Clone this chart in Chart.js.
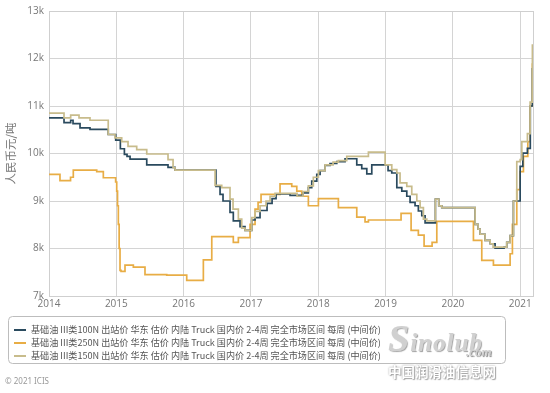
<!DOCTYPE html>
<html><head><meta charset="utf-8">
<script src="https://cdn.jsdelivr.net/npm/chart.js@4"></script>
<style>
html,body{margin:0;padding:0;background:#fff;}
#wrap{position:relative;width:550px;height:393px;overflow:hidden;}
canvas{position:absolute;left:0;top:0;}
#copy{position:absolute;left:5px;top:375px;font:8px "Noto Sans",sans-serif;color:#999;}
#wm1{position:absolute;left:388px;top:316px;font:italic bold 38px "Liberation Serif",serif;color:#d0d0d0;text-shadow:0 0 2px #fff,1px 1px 1px #888;letter-spacing:1px;white-space:nowrap;}
#wm2{position:absolute;left:466px;top:344px;font:italic bold 13px "Liberation Serif",serif;color:#d0d0d0;text-shadow:1px 1px 1px #888;}
#wm3{position:absolute;left:388px;top:361px;font:bold 13.5px "Noto Sans CJK SC",sans-serif;color:#fff;text-shadow:0 0 2px #999,1px 1px 1px #aaa;white-space:nowrap;}
</style></head>
<body><div id="wrap"><canvas id="c" width="550" height="393"></canvas>
<div id="copy">© 2021 ICIS</div>
<div id="wm1">S<span style="font-size:25px">inolub</span></div>
<div id="wm2">.com</div>
<div id="wm3">中国润滑油信息网</div>
</div>
<script>
// Series labels
const seriesNames = [
  "基础油 III类100N 出站价 华东 估价 内陆 Truck 国内价 2-4周 完全市场区间 每周 (中间价)",
  "基础油 III类250N 出站价 华东 估价 内陆 Truck 国内价 2-4周 完全市场区间 每周 (中间价)",
  "基础油 III类150N 出站价 华东 估价 内陆 Truck 国内价 2-4周 完全市场区间 每周 (中间价)"
];
const yTickValues = [7000, 8000, 9000, 10000, 11000, 12000, 13000];
const xTickYears = [2014, 2015, 2016, 2017, 2018, 2019, 2020, 2021];

// 100N (dark blue)
const years100 = [2014.000,2014.223,2014.322,2014.357,2014.461,2014.609,2014.880,2014.991,2015.060,2015.120,2015.159,2015.204,2015.452,2015.768,2015.872,
  2016.480,2016.541,2016.585,2016.689,2016.738,2016.838,2016.912,
  2017.012,2017.061,2017.135,2017.239,2017.314,2017.373,2017.581,2017.774,2017.853,2017.903,2017.978,2018.027,2018.101,2018.175,2018.275,2018.398,
  2018.572,2018.646,2018.721,2018.795,2019.037,2019.092,2019.167,2019.241,2019.315,2019.364,2019.438,2019.487,2019.538,2019.587,
  2019.740,2019.790,2019.835,2020.330,2020.374,2020.404,2020.478,2020.553,2020.627,2020.760,2020.800,2020.850,2020.899,2020.999,2021.039,2021.107,2021.150,2021.181];
const price100 = [10750,10650,10700,10630,10540,10510,10400,10280,10100,9980,9940,9880,9760,9710,9650,
  9310,9140,9000,8760,8580,8460,8380,
  8600,8650,8800,8950,9050,9150,9120,9170,9280,9420,9560,9640,9750,9790,9830,9890,
  9760,9680,9570,9760,9640,9590,9280,9210,9100,8970,8900,8790,8690,8540,
  9040,8900,8860,8510,8410,8300,8170,8100,8010,8030,8130,8270,9000,9730,10010,10110,11000,11800];

// 250N (orange)
const years250 = [2014.000,2014.163,2014.320,2014.361,2014.709,2014.807,2014.990,2015.006,2015.018,2015.030,2015.042,2015.055,2015.070,2015.129,2015.253,2015.426,2015.749,2016.046,2016.293,2016.418,2016.738,2016.813,
  2016.987,2017.061,2017.106,2017.150,2017.432,2017.606,2017.681,2017.755,2017.853,2018.002,2018.299,2018.572,2018.695,2018.745,2019.230,2019.379,2019.487,2019.572,2019.691,2019.761,
  2020.305,2020.429,2020.602,2020.850,2020.884,2020.949,2020.999,2021.048,2021.113,2021.147,2021.181];
const price250 = [9560,9430,9500,9650,9620,9490,9400,9210,8900,8510,8000,7540,7520,7650,7610,7450,7440,7330,7760,8250,8130,8230,
  8510,8830,8970,9140,9360,9310,9210,9100,8900,9050,8860,8660,8560,8600,8740,8380,8280,8050,8130,8570,
  8170,7750,7650,7890,8510,9240,9620,9940,10250,11000,11900];

// 150N (tan)
const years150 = [2014.000,2014.223,2014.322,2014.446,2014.609,2014.880,2014.980,2015.080,2015.174,2015.303,2015.452,2015.768,2015.843,2015.872,
  2016.467,2016.566,2016.689,2016.734,2016.813,2016.863,2016.912,
  2017.012,2017.061,2017.135,2017.224,2017.284,2017.358,2017.685,2017.774,2017.853,2017.927,2018.002,2018.101,2018.220,2018.299,2018.423,2018.745,
  2018.993,2019.092,2019.167,2019.215,2019.315,2019.389,2019.464,2019.513,2019.562,2019.612,2019.740,2019.790,2019.835,
  2020.330,2020.374,2020.404,2020.478,2020.553,2020.597,2020.800,2020.850,2020.899,2020.949,2020.999,2021.024,2021.107,2021.147,2021.181];
const price150 = [10850,10750,10810,10750,10700,10400,10330,10250,10150,10080,9990,9870,9700,9650,
  9330,9280,9040,8830,8620,8430,8380,
  8650,8780,8900,9000,9100,9160,9100,9200,9320,9500,9640,9760,9820,9850,9940,10030,
  9760,9660,9590,9380,9310,9140,9000,8860,8620,8580,9040,8900,8860,
  8510,8410,8300,8170,8100,8030,8130,8270,9000,9830,9870,10250,10420,11080,12300];

const colors = ['#2a4a5e', '#e8ad45', '#c8bc8c'];
const toPts = (xs, ys) => xs.map((x, i) => ({x: x, y: ys[i]}));

const frame = {
  id: 'frame',
  beforeDatasetsDraw(chart) {
    const {ctx, chartArea: a} = chart;
    ctx.save(); ctx.strokeStyle = '#cfcfcf'; ctx.lineWidth = 1;
    ctx.strokeRect(Math.round(a.left)+0.5, Math.round(a.top)+0.5, Math.round(a.right-a.left), Math.round(a.bottom-a.top));
    ctx.restore();
  },
  afterDraw(chart) {
    const ctx = chart.ctx;
    ctx.save();
    ctx.strokeStyle = '#bdbdbd'; ctx.lineWidth = 1;
    ctx.beginPath();
    if (ctx.roundRect) ctx.roundRect(8.5, 316.5, 497, 47, 4); else ctx.rect(8.5, 316.5, 497, 47);
    ctx.stroke();
    const rows = [330, 343, 356];
    ctx.font = '9.1px "Noto Sans CJK SC", sans-serif';
    ctx.textBaseline = 'middle';
    seriesNames.forEach((name, i) => {
      ctx.strokeStyle = colors[i]; ctx.lineWidth = 2;
      ctx.beginPath(); ctx.moveTo(14, rows[i]); ctx.lineTo(26, rows[i]); ctx.stroke();
      ctx.fillStyle = '#555';
      ctx.fillText(name, 31, rows[i]);
    });
    ctx.restore();
  }
};

new Chart(document.getElementById('c'), {
  type: 'line',
  data: {
    datasets: [
      {label: seriesNames[0], data: toPts(years100, price100), borderColor: colors[0], order: 1},
      {label: seriesNames[1], data: toPts(years250, price250), borderColor: colors[1], order: 2},
      {label: seriesNames[2], data: toPts(years150, price150), borderColor: colors[2], order: 0}
    ].map(d => Object.assign(d, {borderWidth: 1.7, pointRadius: 0, stepped: 'before', fill: false, tension: 0}))
  },
  options: {
    responsive: false, animation: false,
    layout: {padding: {top: 8, right: 17, left: 0, bottom: 0}},
    plugins: {legend: {display: false}, tooltip: {enabled: false}},
    scales: {
      x: {
        type: 'linear', min: 2014, max: 2021.19,
        afterFit(s) { s.height = 97; },
        afterBuildTicks(s) { s.ticks = xTickYears.map(v => ({value: v})); },
        grid: {color: '#d4d4d4', drawTicks: false},
        border: {display: false},
        ticks: {color: '#777', font: {size: 10, family: '"Open Sans", sans-serif'}, padding: 2, maxRotation: 0,
                callback: v => String(v)}
      },
      y: {
        min: 7000, max: 13000,
        afterFit(s) { s.width = 49; },
        afterBuildTicks(s) { s.ticks = yTickValues.map(v => ({value: v})); },
        grid: {color: '#d4d4d4', drawTicks: false},
        border: {display: false},
        title: {display: true, text: '人民币元/吨', color: '#777', font: {size: 11.5, family: '"Noto Sans CJK SC", sans-serif'}, padding: {top: 4, bottom: 0}},
        ticks: {color: '#777', font: {size: 10, family: '"Open Sans", sans-serif'}, padding: 5,
                callback: v => (v / 1000) + 'k'}
      }
    }
  },
  plugins: [frame]
});
</script>
</body></html>
